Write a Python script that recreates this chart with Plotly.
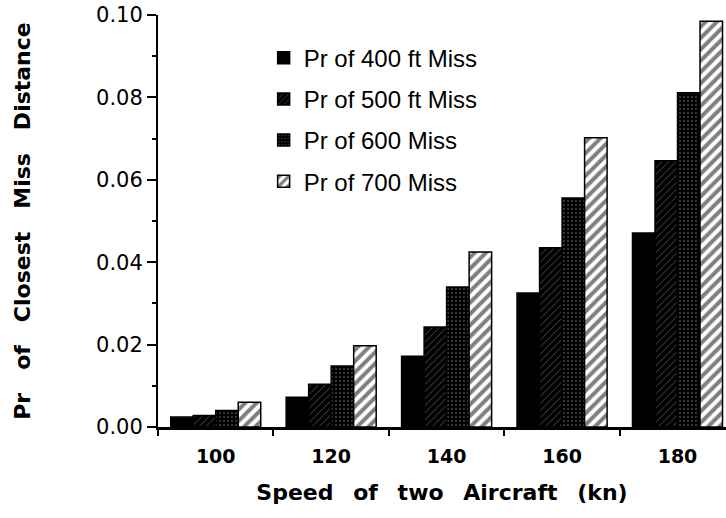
import plotly.graph_objects as go

speeds = [100, 120, 140, 160, 180]
pr_400 = [0.0024, 0.0072, 0.0172, 0.0325, 0.0471]
pr_500 = [0.0028, 0.0104, 0.0243, 0.0435, 0.0646]
pr_600 = [0.0040, 0.0148, 0.0340, 0.0556, 0.0811]
pr_700 = [0.0060, 0.0197, 0.0425, 0.0702, 0.0985]
series_names = ["Pr of 400 ft Miss", "Pr of 500 ft Miss", "Pr of 600 Miss", "Pr of 700 Miss"]
x_ticklabels = ["100", "120", "140", "160", "180"]
y_ticks = [0.00, 0.02, 0.04, 0.06, 0.08, 0.10]
y_ticklabels = ["0.00", "0.02", "0.04", "0.06", "0.08", "0.10"]

patterns = [
    dict(shape="", bgcolor="black", fgcolor="black"),
    dict(shape="/", bgcolor="black", fgcolor="white", size=5, solidity=0.12),
    dict(shape=".", bgcolor="black", fgcolor="white", size=4, solidity=0.12),
    dict(shape="/", bgcolor="white", fgcolor="black", size=8, solidity=0.5),
]
colors = ["black", "black", "black", "white"]

fig = go.Figure()
for i, (name, vals) in enumerate(zip(series_names, [pr_400, pr_500, pr_600, pr_700])):
    fig.add_trace(go.Bar(
        x=speeds, y=vals, name=name, legendgroup=str(i),
        marker=dict(color=colors[i], pattern=patterns[i],
                    line=dict(color="black", width=1.5)),
    ))

sans = "Liberation Sans, Arial, Helvetica, sans-serif"
wide = "DejaVu Sans, sans-serif"
gap_x = "&nbsp;&nbsp;\u2009"
gap_y = "&nbsp;&nbsp;&nbsp;"
fig.update_layout(
    width=726, height=518,
    margin=dict(l=158, r=0, t=15, b=91),
    plot_bgcolor="white", paper_bgcolor="white",
    barmode="group", bargap=0.22, bargroupgap=0,
    showlegend=True,
    legend=dict(x=0.186, y=0.95, xanchor="left", yanchor="top",
                font=dict(family=sans, size=24, color="black"),
                traceorder="grouped", tracegroupgap=7,
                bgcolor="rgba(0,0,0,0)"),
    font=dict(family=sans, color="black"),
)
fig.update_xaxes(
    range=[90, 188.4], tickvals=speeds, ticktext=x_ticklabels,
    ticks="outside", ticklen=10, tickcolor="rgba(0,0,0,0)",
    showgrid=False, zeroline=False,
    showline=True, linecolor="black", linewidth=2.5,
    tickfont=dict(family=wide, size=19, color="black", weight="bold"),
    minor=dict(tick0=110, dtick=20, ticks="outside", ticklen=6, tickwidth=2, tickcolor="black", showgrid=False),
    title=dict(text="<b>" + gap_x.join(["Speed", "of", "two", "Aircraft", "(kn)"]) + "</b>",
               font=dict(family=wide, size=22, color="black"), standoff=20),
)
fig.update_yaxes(
    range=[0, 0.1], tickvals=y_ticks, ticktext=y_ticklabels,
    ticks="outside", ticklen=9, tickwidth=2, tickcolor="black",
    showgrid=False, zeroline=False,
    showline=True, linecolor="black", linewidth=2,
    tickfont=dict(family=wide, size=21, color="black"),
    minor=dict(tick0=0.01, dtick=0.02, ticks="outside", ticklen=4, tickwidth=2, tickcolor="black", showgrid=False),
    title=dict(text="<b>" + gap_y.join(["Pr", "of", "Closest", "Miss", "Distance"]) + "</b>",
               font=dict(family=wide, size=22, color="black"), standoff=59),
)

fig.write_html("out.html", config={"displayModeBar": False},
               post_script="document.body.style.margin='0px';")
